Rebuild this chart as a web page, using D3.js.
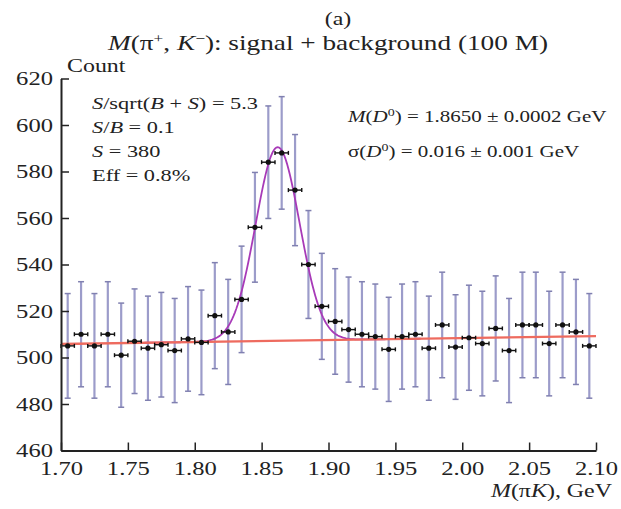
<!DOCTYPE html>
<html>
<head>
<meta charset="utf-8">
<script src="https://cdn.jsdelivr.net/npm/d3@7"></script>
<style>
  body { margin: 0; background: #fff; }
  text { font-family: "Liberation Serif", "Times New Roman", serif; fill: #222; }
</style>
</head>
<body>
<div id="chart"></div>
<script>
// bin centres (GeV) and counts
const binCenters = [1.705, 1.715, 1.725, 1.735, 1.745, 1.755, 1.765, 1.775, 1.785, 1.795,
  1.805, 1.815, 1.825, 1.835, 1.845, 1.855, 1.865, 1.875, 1.885, 1.895,
  1.905, 1.915, 1.925, 1.935, 1.945, 1.955, 1.965, 1.975, 1.985, 1.995,
  2.005, 2.015, 2.025, 2.035, 2.045, 2.055, 2.065, 2.075, 2.085, 2.095]
const counts = [505, 510, 505, 510, 501, 507, 504, 505.5, 503, 508,
  506.5, 518, 511, 525, 556, 584, 588, 572, 540, 522,
  515.5, 512, 510, 509, 503.5, 509, 510, 504, 514, 504.5,
  508.5, 506, 512.5, 503, 514, 514, 506, 514, 511, 505]
const countErrors = [22.5, 22.6, 22.5, 22.6, 22.4, 22.5, 22.4, 22.5, 22.4, 22.5,
  22.5, 22.8, 22.6, 22.9, 23.6, 24.2, 24.2, 23.9, 23.2, 22.8,
  22.7, 22.6, 22.6, 22.6, 22.4, 22.6, 22.6, 22.4, 22.7, 22.5,
  22.6, 22.5, 22.6, 22.4, 22.7, 22.7, 22.5, 22.7, 22.6, 22.5]
const binHalfWidth = 0.005

const xTicks = [1.70, 1.75, 1.80, 1.85, 1.90, 1.95, 2.00, 2.05, 2.10]
const yTicks = [460, 480, 500, 520, 540, 560, 580, 600, 620]

// fit: linear background + gaussian
const bgAt170 = 505.8
const bgAt210 = 509.2
const peakMean = 1.862
const peakSigma = 0.0164
const peakHeight = 83.3

const W = 621, H = 509
const margin = { left: 61, right: 25, top: 78.5, bottom: 58.5 }
const sx = 1.33 // the reference text is stretched sideways

const svg = d3.select('#chart').append('svg')
  .attr('width', W).attr('height', H)

const x = d3.scaleLinear().domain([1.70, 2.10]).range([margin.left, W - margin.right])
const y = d3.scaleLinear().domain([460, 620]).range([H - margin.bottom, margin.top])

function label(cx, cy, anchor, size, html) {
  svg.append('text')
    .attr('transform', `translate(${cx},${cy}) scale(${sx},1)`)
    .attr('text-anchor', anchor)
    .attr('font-size', size)
    .html(html)
}

// error bars (vertical)
const errColor = '#9c9cca'
svg.append('g').selectAll('line')
  .data(binCenters)
  .enter().append('line')
  .attr('x1', d => x(d)).attr('x2', d => x(d))
  .attr('y1', (d, i) => y(counts[i] - countErrors[i]))
  .attr('y2', (d, i) => y(counts[i] + countErrors[i]))
  .attr('stroke', errColor).attr('stroke-width', 2.2)

const capW = 3
const caps = svg.append('g').attr('stroke', '#8080b0').attr('stroke-width', 1.5)
binCenters.forEach((d, i) => {
  [counts[i] - countErrors[i], counts[i] + countErrors[i]].forEach(v => {
    caps.append('line')
      .attr('x1', x(d) - capW).attr('x2', x(d) + capW)
      .attr('y1', y(v)).attr('y2', y(v))
  })
})

// fit curve (purple) and background (red)
const fitX = d3.range(1.70, 2.1001, 0.001)
const bg = v => bgAt170 + (bgAt210 - bgAt170) * (v - 1.70) / 0.40
const fit = v => bg(v) + peakHeight * Math.exp(-0.5 * ((v - peakMean) / peakSigma) ** 2)

svg.append('path')
  .datum(fitX.filter(v => v > 1.76 && v < 1.97))
  .attr('d', d3.line().x(d => x(d)).y(d => y(fit(d))))
  .attr('fill', 'none').attr('stroke', '#a83ab8').attr('stroke-width', 1.8)

svg.append('path')
  .datum([1.70, 2.10])
  .attr('d', d3.line().x(d => x(d)).y(d => y(bg(d))))
  .attr('fill', 'none').attr('stroke', '#ee6b5f').attr('stroke-width', 2.4)

// horizontal bin-width bars and points
const pts = svg.append('g')
binCenters.forEach((d, i) => {
  const g = pts.append('g').attr('stroke', '#111').attr('stroke-width', 1.4)
  g.append('line')
    .attr('x1', x(d - binHalfWidth)).attr('x2', x(d + binHalfWidth))
    .attr('y1', y(counts[i])).attr('y2', y(counts[i]))
  ;[d - binHalfWidth, d + binHalfWidth].forEach(e => {
    g.append('line')
      .attr('x1', x(e)).attr('x2', x(e))
      .attr('y1', y(counts[i]) - 2).attr('y2', y(counts[i]) + 2)
  })
})
pts.selectAll('circle')
  .data(binCenters)
  .enter().append('circle')
  .attr('cx', d => x(d)).attr('cy', (d, i) => y(counts[i]))
  .attr('r', 2.6).attr('fill', '#111')

// axes
const xAxis = svg.append('g')
  .attr('transform', `translate(0,${H - margin.bottom})`)
  .call(d3.axisBottom(x).tickValues(xTicks).tickFormat(d3.format('.2f'))
    .tickSizeInner(-8).tickSizeOuter(0).tickPadding(0))
xAxis.selectAll('text')
  .attr('y', 0).attr('dy', 0)
  .attr('transform', `translate(0,24) scale(${sx},1)`)
  .attr('font-size', 18.5).attr('font-family', '"Liberation Serif", serif').attr('fill', '#222')

const yAxis = svg.append('g')
  .attr('transform', `translate(${margin.left},0)`)
  .call(d3.axisLeft(y).tickValues(yTicks)
    .tickSizeInner(-8).tickSizeOuter(0).tickPadding(0))
yAxis.selectAll('text')
  .attr('x', 0).attr('dy', 0)
  .attr('transform', `translate(-8,6) scale(${sx},1)`)
  .attr('font-size', 18.5).attr('font-family', '"Liberation Serif", serif').attr('fill', '#222')

svg.selectAll('.domain').attr('stroke', '#222').attr('stroke-width', 2)
svg.selectAll('.tick line').attr('stroke', '#222').attr('stroke-width', 1.5)

// titles and annotations
label(338, 25, 'middle', 18, '(a)')
label(328, 50, 'middle', 20.5,
  '<tspan font-style="italic">M</tspan>(π<tspan dy="-7" font-size="13">+</tspan><tspan dy="7">, </tspan><tspan font-style="italic">K</tspan><tspan dy="-7" font-size="13">−</tspan><tspan dy="7">): signal + background (100 M)</tspan>')
label(67, 72, 'start', 18, 'Count')
label(612, 497, 'end', 18, '<tspan font-style="italic">M</tspan>(π<tspan font-style="italic">K</tspan>), GeV')

label(92, 109, 'start', 16.8, '<tspan font-style="italic">S</tspan>/sqrt(<tspan font-style="italic">B</tspan> + <tspan font-style="italic">S</tspan>) = 5.3')
label(92, 133, 'start', 16.8, '<tspan font-style="italic">S</tspan>/<tspan font-style="italic">B</tspan> = 0.1')
label(92, 157, 'start', 16.8, '<tspan font-style="italic">S</tspan> = 380')
label(92, 181, 'start', 16.8, 'Eff = 0.8%')

label(348, 122, 'start', 15.8, '<tspan font-style="italic">M</tspan>(<tspan font-style="italic">D</tspan><tspan dy="-6" font-size="10.5">0</tspan><tspan dy="6">) = 1.8650 ± 0.0002 GeV</tspan>')
label(348, 157, 'start', 15.8, 'σ(<tspan font-style="italic">D</tspan><tspan dy="-6" font-size="10.5">0</tspan><tspan dy="6">) = 0.016 ± 0.001 GeV</tspan>')
</script>
</body>
</html>
